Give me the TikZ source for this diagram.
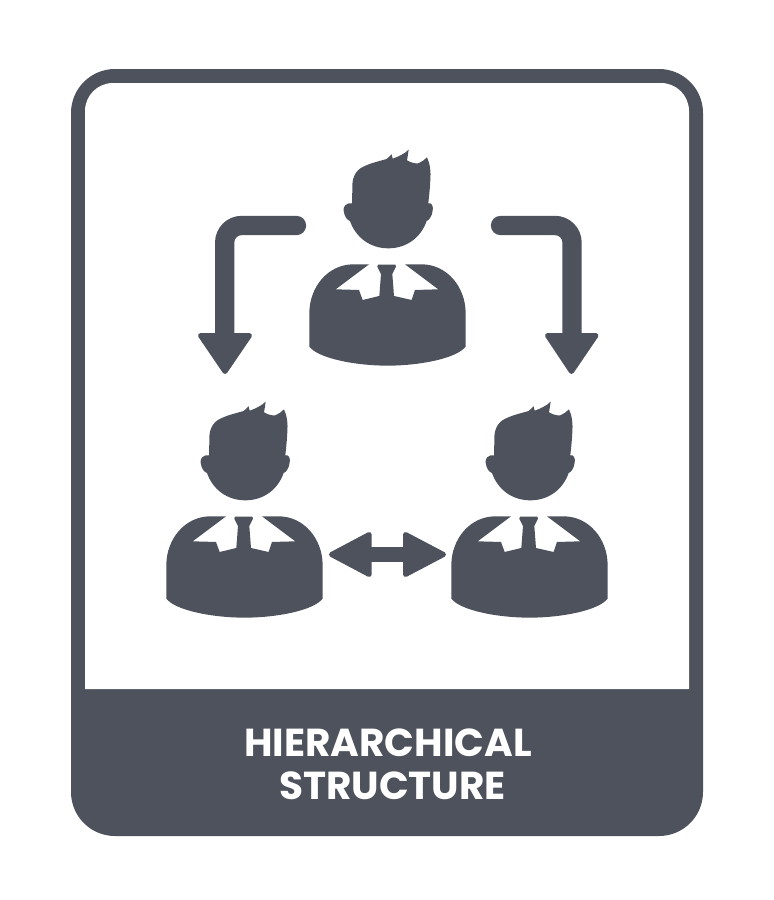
\documentclass[tikz,border=0pt]{standalone}
\usepackage{fontspec}
\setmainfont{Poppins}
\definecolor{ink}{HTML}{4D525C}
\tikzset{
  inkfill/.style={fill=ink,draw=none},
  stemline/.style={draw=ink,line width=19.3pt,line cap=round,rounded corners=17pt},
  headtip/.style={fill=ink,draw=ink,line width=5pt,line join=round},
  titletext/.style={text=white,font=\bfseries\fontsize{39}{39}\selectfont,inner sep=0pt,anchor=center},
  person/.pic={
    \begin{scope}[x=0.3333pt,y=-0.3333pt]
      % head, ears and hair
      \fill[ink] (187,150) .. controls (185,115) and (195,92) .. (220,80)
        .. controls (245,68) and (270,63) .. (290,57) -- (305,43) -- (308,56)
        .. controls (325,50) and (343,42) .. (356,29)
        .. controls (354,42) and (353,52) .. (351,61)
        .. controls (363,68) and (375,71) .. (385,70)
        .. controls (395,66) and (403,60) .. (411,52)
        .. controls (420,70) and (423,95) .. (421,120)
        .. controls (420,145) and (417,170) .. (415,190)
        .. controls (425,187) and (431,200) .. (428,212)
        .. controls (426,228) and (418,240) .. (410,243)
        .. controls (393,292) and (350,325) .. (295,325)
        .. controls (240,325) and (197,292) .. (180,243)
        .. controls (170,240) and (163,228) .. (161,212)
        .. controls (158,200) and (170,187) .. (186,190) -- cycle;
      % shoulders, collar and tie
      \fill[ink] (58,520) .. controls (58,440) and (115,373) .. (190,373)
        -- (237,373) -- (137,448) -- (207,450) -- (218,480) -- (268,468)
        -- (273,402) -- (262,380) -- (264,374) -- (316,374) -- (318,380)
        -- (307,402) -- (312,468) -- (365,480) -- (375,450) -- (445,448)
        -- (345,373) -- (395,373)
        .. controls (470,373) and (527,440) .. (527,520) -- (527,620)
        .. controls (500,655) and (390,677) .. (293,677)
        .. controls (195,677) and (85,655) .. (58,620) -- cycle;
    \end{scope}
  }
}
\begin{document}
\begin{tikzpicture}[x=1pt,y=-1pt]
  \useasboundingbox (0,0) rectangle (774,900);
  \fill[white] (0,0) rectangle (774,900);
  % frame
  \fill[ink,rounded corners=44pt] (71,69) rectangle (703,836);
  \fill[white] (85,689) -- (85,111) arc[start angle=180,end angle=90,radius=28pt]
    -- (661,83) arc[start angle=90,end angle=0,radius=28pt] -- (689,689) -- cycle;
  % people
  \pic at (290,140) {person};
  \pic at (147,392) {person};
  \pic at (432,392) {person};
  % arrows
  \coordinate (lstart) at (296.5,225.5);
  \coordinate (lbend) at (224.7,225.5);
  \coordinate (lend) at (224.7,340);
  \draw[stemline] (lstart) -- (lbend) -- (lend);
  \draw[headtip] (200.5,335.5) -- (249.5,335.5) -- (225,371.5) -- cycle;
  \coordinate (rstart) at (500.5,225.5);
  \coordinate (rbend) at (572,225.5);
  \coordinate (rend) at (572,340);
  \draw[stemline] (rstart) -- (rbend) -- (rend);
  \draw[headtip] (547.5,335.5) -- (596,335.5) -- (571.5,371.5) -- cycle;
  % double arrow
  \fill[ink] (365,546.7) rectangle (410,562.3);
  \draw[headtip] (369.2,534.5) -- (369.2,574.5) -- (331.5,554.5) -- cycle;
  \draw[headtip] (405.5,534.5) -- (405.5,574.5) -- (443.5,554.5) -- cycle;
  % title
  \node[titletext] (title1) at (388,742.5) {HIERARCHICAL};
  \node[titletext] (title2) at (392.5,785.5) {STRUCTURE};
\end{tikzpicture}
\end{document}
